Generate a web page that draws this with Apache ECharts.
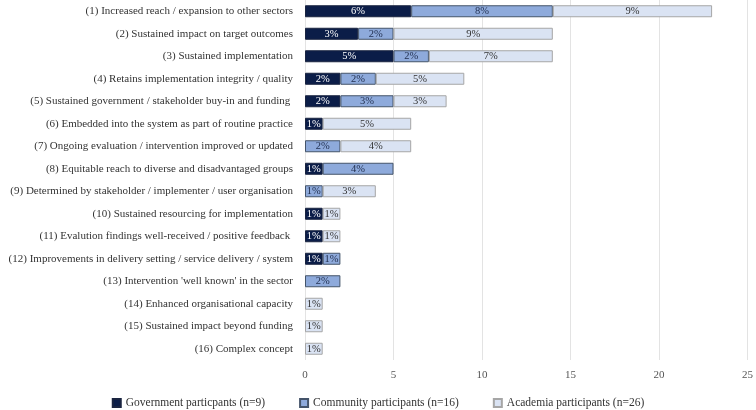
<!DOCTYPE html>
<html><head><meta charset="utf-8">
<script src="https://cdn.jsdelivr.net/npm/echarts@6/dist/echarts.min.js"></script>
<style>html,body{margin:0;padding:0;background:#fff}#c{width:756px;height:410px}</style>
</head><body><div id="c"></div>
<script>
const categories = [
  "(1) Increased reach / expansion to other sectors",
  "(2) Sustained impact on target outcomes",
  "(3) Sustained implementation",
  "(4) Retains implementation integrity / quality",
  "(5) Sustained government / stakeholder buy-in and funding ",
  "(6) Embedded into the system as part of routine practice",
  "(7) Ongoing evaluation / intervention improved or updated",
  "(8) Equitable reach to diverse and disadvantaged groups",
  "(9) Determined by stakeholder / implementer / user organisation",
  "(10) Sustained resourcing for implementation",
  "(11) Evalution findings well-received / positive feedback ",
  "(12) Improvements in delivery setting / service delivery / system",
  "(13) Intervention 'well known' in the sector",
  "(14) Enhanced organisational capacity",
  "(15) Sustained impact beyond funding",
  "(16) Complex concept"
];
const government = [6,3,5,2,2,1,0,1,0,1,1,1,0,0,0,0];
const community  = [8,2,2,2,3,0,2,4,1,0,0,1,2,0,0,0];
const academia   = [9,9,7,5,3,5,4,0,3,1,1,0,0,1,1,1];
const seriesNames = ["Government particpants (n=9)","Community participants (n=16)","Academia participants (n=26)"];
const xTicks = [0,5,10,15,20,25];

const font = "'Liberation Serif','Times New Roman',serif";
const colors = ['#0b1d48','#8eaadb','#dae3f3'];
const labelColors = ['#ffffff','#1f2d4d','#333333'];
const borders = ['#1a2440','#44546a','#a6a6a6'];
function mk(name, vals, i){
  return {
    name, type:'bar', stack:'s', barWidth:12,
    data: vals.map(v => v === 0 ? null : v),
    itemStyle:{color:colors[i], borderColor:borders[i], borderWidth:1},
    label:{show:true, position:'inside', formatter: p => p.value ? p.value + '%' : '',
      color:labelColors[i], fontFamily:font, fontSize:10.5}
  };
}
const chart = echarts.init(document.getElementById('c'));
chart.setOption({
  animation:false,
  textStyle:{fontFamily:font},
  grid:{left:305, right:6, top:0, bottom:50},
  legend:{bottom:-4, left:'center', itemGap:34, itemWidth:8, itemHeight:8, icon:'rect',
    textStyle:{fontFamily:font, fontSize:11.5, color:'#333'}, data:seriesNames},
  xAxis:{type:'value', min:xTicks[0], max:xTicks[xTicks.length-1], interval:xTicks[1]-xTicks[0],
    axisLine:{show:false}, axisTick:{show:false},
    axisLabel:{fontFamily:font, fontSize:11, color:'#555', margin:10},
    splitLine:{lineStyle:{color:'#e3e3e3'}}},
  yAxis:{type:'category', inverse:true, data:categories,
    axisLine:{show:false}, axisTick:{show:false},
    axisLabel:{fontFamily:font, fontSize:11, color:'#333', margin:12}},
  series:[mk(seriesNames[0],government,0), mk(seriesNames[1],community,1), mk(seriesNames[2],academia,2)]
});
</script></body></html>
